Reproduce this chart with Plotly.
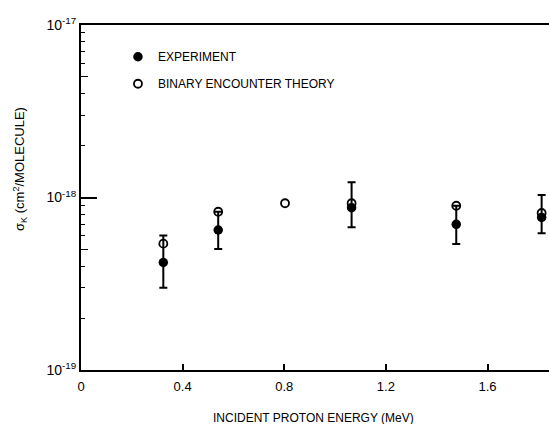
import plotly.graph_objects as go

# Experiment (filled)
exp_x = [0.324, 0.540, 1.065, 1.477, 1.813]
exp_y = [4.20e-19, 6.48e-19, 8.73e-19, 6.99e-19, 7.66e-19]
exp_hi = [6.02e-19, 8.27e-19, 1.225e-18, 8.96e-19, 1.034e-18]
exp_lo = [3.00e-19, 5.03e-19, 6.72e-19, 5.38e-19, 6.20e-19]

# Binary encounter theory (open)
th_x = [0.324, 0.540, 0.803, 1.065, 1.477, 1.813]
th_y = [5.40e-19, 8.27e-19, 9.26e-19, 9.26e-19, 8.96e-19, 8.13e-19]

y_major = [1e-19, 1e-18, 1e-17]
y_major_text = ["10<sup>-19</sup>", "10<sup>-18</sup>", "10<sup>-17</sup>"]
y_mid = [5e-19, 5e-18]
y_minor = [m * d for d in (1e-19, 1e-18) for m in (2, 3, 4, 6, 7, 8, 9)]

FONT = "Liberation Sans Narrow, Liberation Sans, Arial, sans-serif"

fig = go.Figure()
fig.add_trace(go.Scatter(
    x=exp_x, y=exp_y, mode="markers", name="EXPERIMENT",
    marker=dict(symbol="circle", size=9.5, color="black"),
    error_y=dict(type="data", symmetric=False,
                 array=[h - v for h, v in zip(exp_hi, exp_y)],
                 arrayminus=[v - l for v, l in zip(exp_y, exp_lo)],
                 color="black", thickness=2, width=4),
    legendgroup="a",
))
fig.add_trace(go.Scatter(
    x=th_x, y=th_y, mode="markers", name="BINARY ENCOUNTER THEORY",
    marker=dict(symbol="circle-open", size=8, color="black", line=dict(width=1.8, color="black")),
    legendgroup="b",
))
# invisible trace on yaxis2 to show mid ticks
fig.add_trace(go.Scatter(x=[0], y=[1e-18], yaxis="y2", mode="markers",
                         marker=dict(opacity=0), showlegend=False, hoverinfo="skip"))

fig.update_layout(
    width=549, height=424,
    margin=dict(l=81, r=0, t=25, b=54),
    paper_bgcolor="white", plot_bgcolor="white",
    font=dict(family=FONT, size=12, color="black"),
    showlegend=True,
    legend=dict(x=0.079, y=0.95, xanchor="left", yanchor="top",
                bgcolor="rgba(0,0,0,0)", font=dict(size=12, family=FONT),
                tracegroupgap=8, traceorder="grouped"),
    xaxis=dict(range=[0, 1.842], tickvals=[0, 0.4, 0.8, 1.2, 1.6],
               ticktext=["0", "0.4", "0.8", "1.2", "1.6"],
               ticks="inside", ticklen=6, tickwidth=1.5, tickcolor="black",
               showline=True, linewidth=2, linecolor="black", mirror=True,
               showgrid=False, zeroline=False, tickfont=dict(size=13),
               ticklabelstandoff=3),
    yaxis=dict(type="log", range=[-19, -17], tickvals=y_major, ticktext=y_major_text,
               ticks="inside", ticklen=16, tickwidth=1.5, tickcolor="black",
               showline=True, linewidth=2, linecolor="black",
               showgrid=False, zeroline=False, tickfont=dict(size=14),
               minor=dict(tickvals=y_minor, ticks="inside", ticklen=4,
                          tickwidth=1.2, tickcolor="black", showgrid=False)),
    yaxis2=dict(type="log", range=[-19, -17], overlaying="y", side="left",
                anchor="x", tickvals=y_mid, ticks="inside", ticklen=7,
                tickwidth=1.2, tickcolor="black", showticklabels=False,
                showgrid=False, zeroline=False, showline=False),
    annotations=[
        dict(text="INCIDENT PROTON ENERGY (MeV)", xref="paper", yref="paper",
             x=(313 - 81) / 468, y=-(418 - 370) / 345, xanchor="center", yanchor="middle",
             showarrow=False, font=dict(size=12, family=FONT)),
        dict(text="σ<sub>K</sub> (cm<sup>2</sup>/MOLECULE)", xref="paper", yref="paper",
             x=-(81 - 20) / 468, y=(370 - 169) / 345, xanchor="center", yanchor="middle",
             textangle=-90, showarrow=False, font=dict(size=13, family=FONT)),
    ],
)

fig.write_html("out.html")
